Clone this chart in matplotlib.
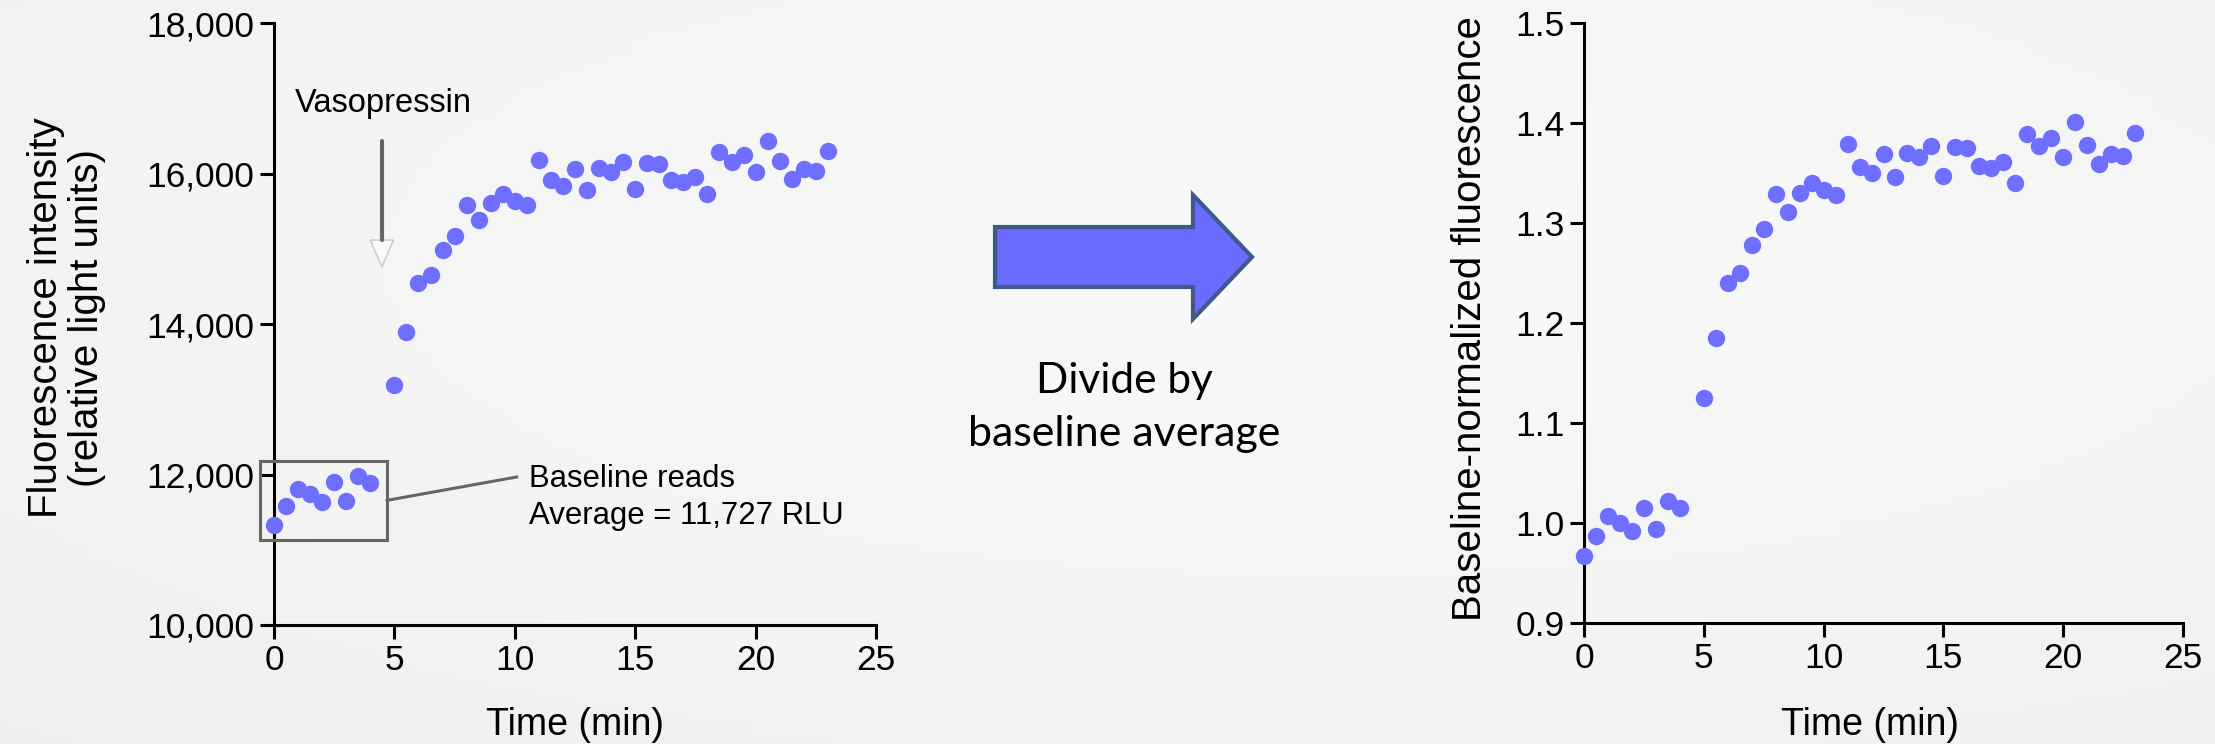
import numpy as np
import matplotlib
matplotlib.use("Agg")
import matplotlib.pyplot as plt
from matplotlib.patches import Polygon, Rectangle
from matplotlib.ticker import FuncFormatter

# time points (min), one read every 30 s
time_min = [0.0, 0.5, 1.0, 1.5, 2.0, 2.5, 3.0, 3.5, 4.0, 5.0, 5.5, 6.0, 6.5, 7.0, 7.5, 8.0,
            8.5, 9.0, 9.5, 10.0, 10.5, 11.0, 11.5, 12.0, 12.5, 13.0, 13.5, 14.0, 14.5, 15.0,
            15.5, 16.0, 16.5, 17.0, 17.5, 18.0, 18.5, 19.0, 19.5, 20.0, 20.5, 21.0, 21.5,
            22.0, 22.5, 23.0]
# raw fluorescence (RLU)
raw_rlu = [11333, 11581, 11810, 11738, 11629, 11895, 11652, 11976, 11890, 13190, 13890,
           14543, 14657, 14981, 15176, 15581, 15376, 15605, 15724, 15629, 15581, 16176,
           15914, 15833, 16057, 15786, 16067, 16019, 16152, 15800, 16138, 16124, 15910,
           15881, 15948, 15724, 16281, 16152, 16248, 16019, 16438, 16167, 15933, 16062,
           16029, 16305]
# baseline-normalized fluorescence
norm_fl = [0.967, 0.987, 1.007, 1.000, 0.992, 1.015, 0.994, 1.022, 1.015, 1.125, 1.185,
           1.240, 1.250, 1.278, 1.294, 1.329, 1.311, 1.330, 1.340, 1.333, 1.328, 1.379,
           1.356, 1.350, 1.369, 1.346, 1.370, 1.366, 1.377, 1.347, 1.376, 1.375, 1.357,
           1.355, 1.361, 1.340, 1.389, 1.377, 1.385, 1.366, 1.401, 1.378, 1.359, 1.369,
           1.367, 1.390]

left_yticks = [10000, 12000, 14000, 16000, 18000]
right_yticks = [0.9, 1.0, 1.1, 1.2, 1.3, 1.4, 1.5]
xticks = [0, 5, 10, 15, 20, 25]

dot_color = "#6E6EFF"
gray = "#666666"
W, H = 2215, 744
plt.rcParams["font.family"] = ["Liberation Sans", "DejaVu Sans"]
narrow = ["Liberation Sans Narrow", "Liberation Sans"]
calib = ["Lato", "DejaVu Sans"]

fig = plt.figure(figsize=(W / 100, H / 100), dpi=100)

# background layer in pixel coordinates
bg = fig.add_axes([0, 0, 1, 1])
bg.set_xlim(0, W)
bg.set_ylim(H, 0)
bg.axis("off")
gx = np.linspace(0, 1, 200)
gy = np.linspace(0, 1, 80)
GX, GY = np.meshgrid(gx, gy)
shade = 0.935 + 0.045 * (1 - np.hypot(GX - 0.6, GY - 0.35))
bg.imshow(np.dstack([shade] * 3), extent=[0, W, H, 0], aspect="auto", zorder=0)

# big "divide" arrow
arrow_pts = [(995, 227), (1193, 227), (1193, 195), (1252, 257), (1193, 319), (1193, 287), (995, 287)]
bg.add_patch(Polygon(arrow_pts, closed=True, facecolor="#6B6BFF", edgecolor="#3D5A8A", lw=3))
bg.text(1124, 381, "Divide by", ha="center", va="center", fontsize=30.5, family=calib)
bg.text(1124, 434, "baseline average", ha="center", va="center", fontsize=31, family=calib)


def style(ax):
    ax.set_facecolor("none")
    for s in ["top", "right"]:
        ax.spines[s].set_visible(False)
    for s in ["left", "bottom"]:
        ax.spines[s].set_linewidth(2.2)
    ax.tick_params(direction="out", length=10, width=2.2, labelsize=25.5, pad=4)
    ax.set_xlim(0, 25)
    ax.set_xticks(xticks)


# left panel: raw reads
ax1 = fig.add_axes([274 / W, 1 - 625 / H, 602 / W, 602 / H])
style(ax1)
ax1.set_ylim(10000, 18000)
ax1.set_yticks(left_yticks)
ax1.yaxis.set_major_formatter(FuncFormatter(lambda v, p: f"{int(v):,}"))
ax1.plot(time_min, raw_rlu, "o", ms=11.5, color=dot_color, clip_on=False, zorder=3)
ax1.text(-0.3455, 0.51, "Fluorescence intensity\n(relative light units)", transform=ax1.transAxes,
         rotation=90, ha="center", va="center", fontsize=29, family=narrow, linespacing=1.1)
ax1.text(0.5, -0.166, "Time (min)", transform=ax1.transAxes, ha="center", va="center", fontsize=27)

# vasopressin addition marker
ax1.text(4.55, 16930, "Vasopressin", ha="center", va="center", fontsize=23.5)
ax1.plot([4.48, 4.48], [16432, 15116], color=gray, lw=3, solid_capstyle="round")
ax1.add_patch(Polygon([(4.0, 15116), (4.96, 15116), (4.48, 14757)], closed=True,
                      facecolor="#FAFAFA", edgecolor="#C8C8C8", lw=1))

# baseline box + callout
ax1.add_patch(Rectangle((-0.6, 11133), 5.3, 1048, facecolor="none", edgecolor=gray, lw=2.2,
                        clip_on=False, zorder=4))
ax1.plot([4.7, 10.08], [11657, 11967], color=gray, lw=2.2)
ax1.text(10.6, 11943, "Baseline reads", ha="left", va="center", fontsize=22.4)
ax1.text(10.6, 11452, "Average = 11,727 RLU", ha="left", va="center", fontsize=22.4)

# right panel: normalized
ax2 = fig.add_axes([1584 / W, 1 - 623 / H, 599 / W, 600 / H])
style(ax2)
ax2.set_ylim(0.9, 1.5)
ax2.set_yticks(right_yticks)
ax2.yaxis.set_major_formatter(FuncFormatter(lambda v, p: f"{v:.1f}"))
ax2.plot(time_min, norm_fl, "o", ms=11.5, color=dot_color, clip_on=False, zorder=3)
ax2.text(-0.19, 0.507, "Baseline-normalized fluorescence", transform=ax2.transAxes,
         rotation=90, ha="center", va="center", fontsize=29, family=narrow)
ax2.text(0.477, -0.17, "Time (min)", transform=ax2.transAxes, ha="center", va="center", fontsize=27)

fig.savefig("out.png", dpi=100)
